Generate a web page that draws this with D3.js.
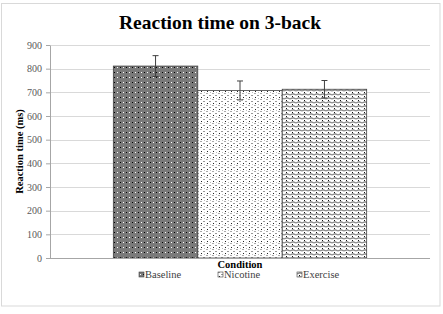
<!DOCTYPE html>
<html lang="en">
<head>
    <meta charset="utf-8">
    <title>Reaction time on 3-back</title>
    <style>
        body { margin: 0; background: #fff; }
        text { font-family: "Liberation Serif", "DejaVu Serif", serif; }
    </style>
</head>
<body>

<div id="bar-chart" style="width:443px; height:314px"></div>

<script src="https://d3js.org/d3.v7.min.js"></script>

<script type="text/javascript">

    var conditions = ["Baseline", "Nicotine", "Exercise"];
    var meanRT = [811, 708, 713];
    var errRT = [44, 40, 37];
    var yTicks = [0, 100, 200, 300, 400, 500, 600, 700, 800, 900];

    var width = 443,
            height = 314;

    var margin = {
        left: 50,
        right: 13,
        top: 45,
        bottom: 56
    };

    var svg = d3.select("#bar-chart")
            .append("svg")
            .attr("width", width)
            .attr("height", height);

    // fill patterns, rough copies of the excel ones
    var defs = svg.append("defs");

    var p1 = defs.append("pattern").attr("id", "pat-baseline")
            .attr("patternUnits", "userSpaceOnUse").attr("width", 6).attr("height", 5);
    p1.append("rect").attr("width", 6).attr("height", 5).attr("fill", "#7a7a7a");
    p1.append("rect").attr("x", 1).attr("y", 2).attr("width", 1).attr("height", 1).attr("fill", "#fff");
    p1.append("rect").attr("x", 4).attr("y", 2).attr("width", 1).attr("height", 1).attr("fill", "#000");

    var p2 = defs.append("pattern").attr("id", "pat-nicotine")
            .attr("patternUnits", "userSpaceOnUse").attr("width", 6).attr("height", 6);
    p2.append("rect").attr("width", 6).attr("height", 6).attr("fill", "#fff");
    p2.append("rect").attr("x", 0).attr("y", 0).attr("width", 2).attr("height", 1).attr("fill", "#aaa");
    p2.append("rect").attr("x", 3).attr("y", 2).attr("width", 2).attr("height", 1).attr("fill", "#999");
    p2.append("rect").attr("x", 1).attr("y", 4).attr("width", 1).attr("height", 1).attr("fill", "#222");
    p2.append("rect").attr("x", 4).attr("y", 5).attr("width", 1).attr("height", 1).attr("fill", "#bbb");

    var p3 = defs.append("pattern").attr("id", "pat-exercise")
            .attr("patternUnits", "userSpaceOnUse").attr("width", 6).attr("height", 4);
    p3.append("rect").attr("width", 6).attr("height", 4).attr("fill", "#fff");
    p3.append("path").attr("d", "M0,2 L3,0.8 L6,2")
            .attr("fill", "none").attr("stroke", "#8c8c8c").attr("stroke-width", 1.3);
    p3.append("rect").attr("x", 2).attr("y", 3).attr("width", 1).attr("height", 1).attr("fill", "#111");

    var fills = {
        "Baseline": "url(#pat-baseline)",
        "Nicotine": "url(#pat-nicotine)",
        "Exercise": "url(#pat-exercise)"
    };

    // chart border
    svg.append("rect")
            .attr("x", 1.5).attr("y", 3.5)
            .attr("width", 438.5).attr("height", 302.5)
            .attr("fill", "#fff")
            .attr("stroke", "#d9d9d9");

    var plotW = width - margin.left - margin.right,
            plotH = height - margin.top - margin.bottom;

    var g = svg.append("g")
            .attr("transform", "translate(" + margin.left + "," + margin.top + ")");

    // one category, three series, gap width 150%
    var x = d3.scaleBand().domain(conditions).range([0, plotW])
            .paddingInner(0).paddingOuter(0.75);
    var y = d3.scaleLinear().domain([0, 900]).range([plotH, 0]);

    // gridlines
    g.selectAll(".grid")
            .data(yTicks.slice(1))
            .enter().append("line")
            .attr("class", "grid")
            .attr("x1", 0).attr("x2", plotW)
            .attr("y1", function (d) { return Math.round(y(d)) + 0.5; })
            .attr("y2", function (d) { return Math.round(y(d)) + 0.5; })
            .style("stroke", "#d9d9d9");

    // Y axis
    var yAxis = g.append("g")
            .attr("class", "axis")
            .call(d3.axisLeft(y).tickValues(yTicks).tickSize(4).tickPadding(4).tickSizeOuter(0));
    yAxis.selectAll("text").style("font-size", "10px").style("fill", "#595959")
            .style("font-family", "'Liberation Serif', serif");
    yAxis.selectAll("line").style("stroke", "#a6a6a6");
    yAxis.select(".domain").style("stroke", "#a6a6a6");

    // bars
    g.selectAll(".bar")
            .data(conditions)
            .enter().append("rect")
            .attr("class", "bar")
            .attr("x", function (d) { return x(d); })
            .attr("width", x.bandwidth())
            .attr("y", function (d, i) { return y(meanRT[i]); })
            .attr("height", function (d, i) { return plotH - y(meanRT[i]); })
            .style("fill", function (d) { return fills[d]; })
            .style("stroke", "#404040")
            .style("stroke-width", 0.8);

    // x axis line
    g.append("line")
            .attr("x1", 0).attr("x2", plotW)
            .attr("y1", plotH + 0.5).attr("y2", plotH + 0.5)
            .style("stroke", "#a6a6a6");

    // error bars
    var eb = g.selectAll(".err")
            .data(conditions)
            .enter().append("g")
            .attr("class", "err")
            .style("stroke", "#404040")
            .style("stroke-width", 1);
    eb.append("line")
            .attr("x1", function (d) { return x(d) + x.bandwidth() / 2; })
            .attr("x2", function (d) { return x(d) + x.bandwidth() / 2; })
            .attr("y1", function (d, i) { return y(meanRT[i] + errRT[i]); })
            .attr("y2", function (d, i) { return y(meanRT[i] - errRT[i]); });
    eb.append("line")
            .attr("x1", function (d) { return x(d) + x.bandwidth() / 2 - 3; })
            .attr("x2", function (d) { return x(d) + x.bandwidth() / 2 + 3; })
            .attr("y1", function (d, i) { return y(meanRT[i] + errRT[i]); })
            .attr("y2", function (d, i) { return y(meanRT[i] + errRT[i]); });
    eb.append("line")
            .attr("x1", function (d) { return x(d) + x.bandwidth() / 2 - 3; })
            .attr("x2", function (d) { return x(d) + x.bandwidth() / 2 + 3; })
            .attr("y1", function (d, i) { return y(meanRT[i] - errRT[i]); })
            .attr("y2", function (d, i) { return y(meanRT[i] - errRT[i]); });

    // titles
    svg.append("text")
            .attr("x", 220).attr("y", 29)
            .attr("text-anchor", "middle")
            .style("font-size", "19.5px")
            .style("font-weight", "bold")
            .style("fill", "#000")
            .text("Reaction time on 3-back");

    svg.append("text")
            .attr("transform", "translate(23," + (margin.top + plotH / 2) + ") rotate(-90)")
            .attr("text-anchor", "middle")
            .style("font-size", "10.5px")
            .style("font-weight", "bold")
            .style("fill", "#000")
            .text("Reaction time (ms)");

    svg.append("text")
            .attr("x", margin.left + plotW / 2).attr("y", 268)
            .attr("text-anchor", "middle")
            .style("font-size", "10.5px")
            .style("font-weight", "bold")
            .style("fill", "#000")
            .text("Condition");

    // legend
    var legend = svg.selectAll(".legend")
            .data(conditions)
            .enter().append("g")
            .attr("class", "legend")
            .attr("transform", function (d, i) { return "translate(" + (139 + i * 79) + ",272)"; });
    legend.append("rect")
            .attr("width", 5).attr("height", 5)
            .style("fill", function (d) { return fills[d]; })
            .style("stroke", "#404040")
            .style("stroke-width", 0.6);
    legend.append("text")
            .attr("x", 6).attr("y", 6)
            .style("font-size", "10.5px")
            .style("fill", "#404040")
            .text(function (d) { return d; });
</script>
</body>
</html>
